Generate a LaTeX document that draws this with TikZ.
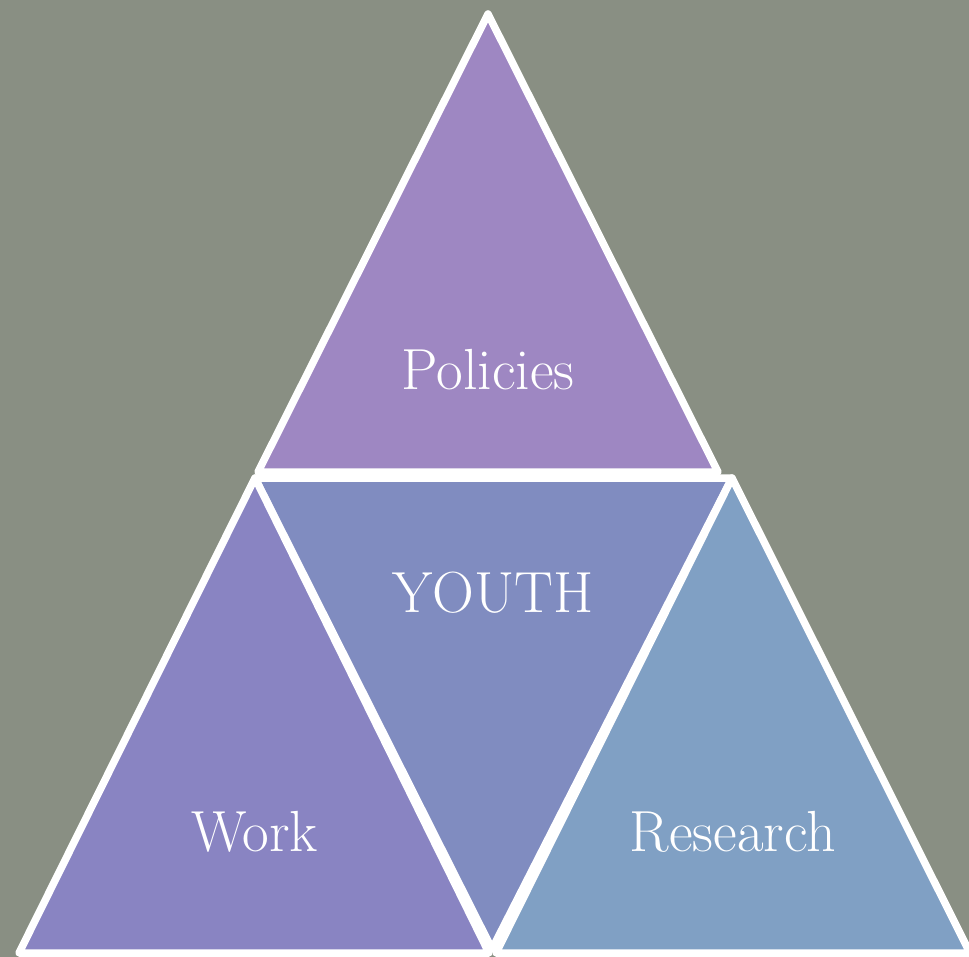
\documentclass[tikz,border=0pt]{standalone}
\usepackage{xcolor}
\usepackage{tikz}
\usetikzlibrary{shapes,arrows}

\definecolor{bgcol}{RGB}{137,143,131}
\definecolor{polcol}{RGB}{158,135,194}
\definecolor{youcol}{RGB}{128,140,192}
\definecolor{wrkcol}{RGB}{137,132,194}
\definecolor{rescol}{RGB}{128,160,196}

\tikzset{
  tri/.style={draw=white,line width=7.5pt,line join=round},
  lbl/.style={text=white,font=\fontsize{58}{66}\selectfont}
}

\begin{document}
\begin{tikzpicture}[x=1pt,y=-1pt]

\fill [bgcol] (0,0) rectangle (969,957);
\useasboundingbox (0,0) rectangle (969,957);
\clip (0,0) rectangle (969,957);

\coordinate (p1) at (488,14);
\coordinate (p2) at (258,472);
\coordinate (p3) at (718,472);

\coordinate (y1) at (255,478);
\coordinate (y2) at (732,478);
\coordinate (y3) at (492,949);

\coordinate (w1) at (255,478);
\coordinate (w2) at (19,953);
\coordinate (w3) at (489,953);

\coordinate (r1) at (732,478);
\coordinate (r2) at (496,953);
\coordinate (r3) at (970,953);

\draw [tri,fill=polcol] (p1) -- (p2) -- (p3) -- cycle;
\draw [tri,fill=youcol] (y1) -- (y2) -- (y3) -- cycle;
\draw [tri,fill=wrkcol] (w1) -- (w2) -- (w3) -- cycle;
\draw [tri,fill=rescol] (r1) -- (r2) -- (r3) -- cycle;

\node [lbl] (v1) at (488,370) {Policies};
\node [lbl] (v2) at (493,593) {YOUTH};
\node [lbl] (v3) at (255,832) {Work};
\node [lbl] (v4) at (733,832) {Research};

\end{tikzpicture}
\end{document}
